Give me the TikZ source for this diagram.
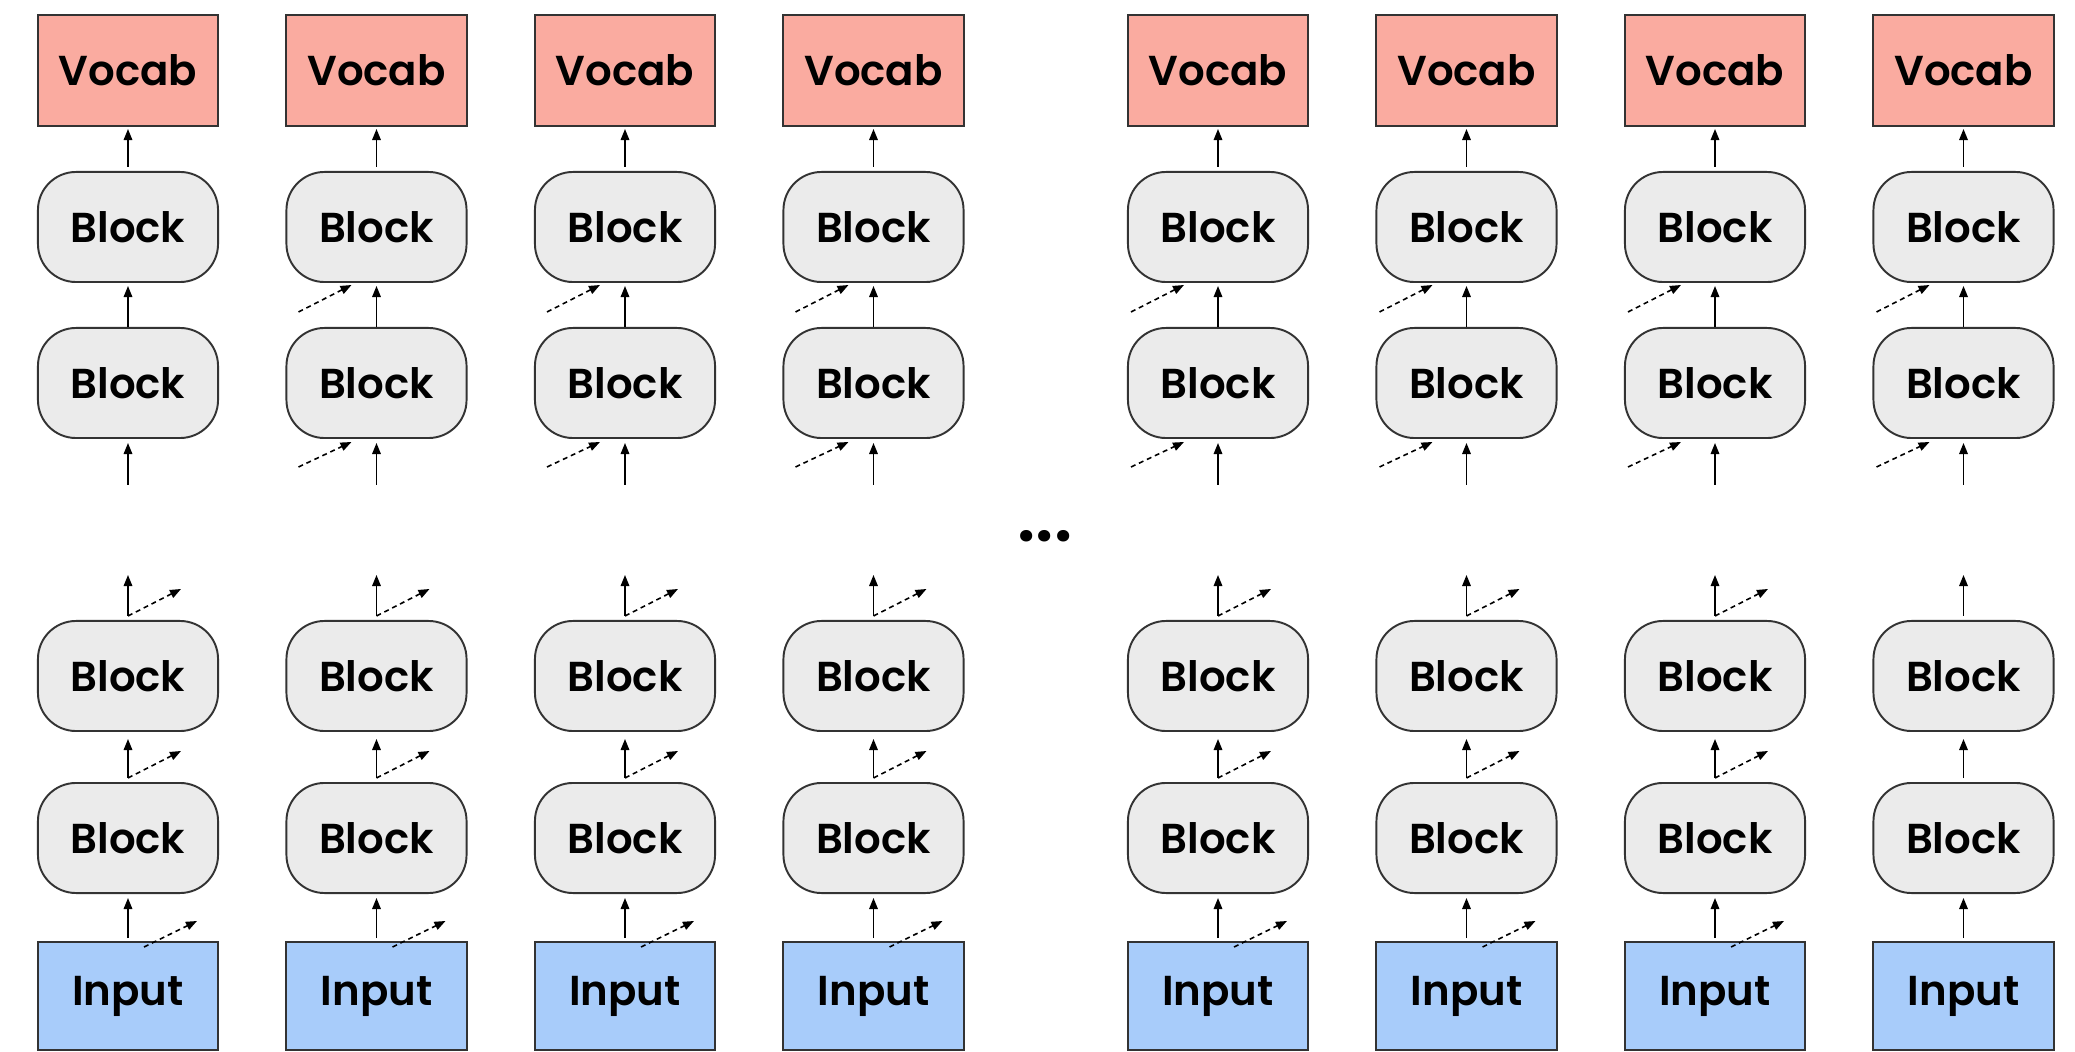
\documentclass[tikz,border=0pt]{standalone}
\usepackage{fontspec}
\newfontfamily\labelfont{Poppins SemiBold}
\usetikzlibrary{arrows.meta}
\definecolor{vocabfill}{HTML}{FAABA0}
\definecolor{inputfill}{HTML}{A8CCFA}
\definecolor{blockfill}{HTML}{EBEBEB}
\definecolor{edge}{HTML}{333333}
\tikzset{
  boxbase/.style={draw=edge, line width=0.55pt, inner sep=0pt, minimum width=1.80cm,
    font=\labelfont\fontsize{11.9}{14}\selectfont, text=black},
  vocabbox/.style={boxbase, fill=vocabfill, minimum height=1.11cm},
  inputbox/.style={boxbase, fill=inputfill, minimum height=1.08cm},
  blockbox/.style={boxbase, fill=blockfill, minimum height=1.10cm, rounded corners=0.38cm},
  arr/.style={-{Triangle[length=0.11cm,width=0.085cm]}, line width=0.45pt, black},
  darr/.style={-{Triangle[length=0.11cm,width=0.085cm]}, line width=0.45pt, black, dash pattern=on 1.4pt off 1.1pt},
}
\begin{document}
\begin{tikzpicture}[x=0.01cm,y=-0.01cm]
\useasboundingbox (0,0) rectangle (2075,1052);
\foreach \cx/\i/\off/\hasd/\hasb in {128/1/78/0/1, 376.5/2/78/1/1, 625/3/78/1/1, 873.5/4/78/1/1, 1218/5/87/1/1, 1466.5/6/87/1/1, 1715/7/87/1/1, 1963.5/8/87/1/0}{
  % top section
  \node[vocabbox] (v\i) at (\cx,70.5) {Vocab};
  \node[blockbox] (t\i) at (\cx,227) {Block};
  \node[blockbox] (s\i) at (\cx,383) {Block};
  \coordinate (tin\i) at (\cx,485);
  \draw[arr, shorten <=0.04cm, shorten >=0.02cm] (t\i) -- (v\i);
  \draw[arr, shorten >=0.03cm] (s\i) -- (t\i);
  \draw[arr, shorten >=0.04cm] (tin\i) -- (s\i);
  \ifnum\hasd=1
    \coordinate (ta\i) at (\cx-\off,312);
    \coordinate (tb\i) at (\cx-\off+53,285);
    \coordinate (tc\i) at (\cx-\off,467);
    \coordinate (td\i) at (\cx-\off+53,442);
    \draw[darr] (ta\i) -- (tb\i);
    \draw[darr] (tc\i) -- (td\i);
  \fi
  % bottom section
  \node[blockbox] (b\i) at (\cx,676) {Block};
  \node[blockbox] (c\i) at (\cx,838) {Block};
  \node[inputbox] (n\i) at (\cx,996) {Input};
  \coordinate (bo\i) at (\cx,575);
  \coordinate (bs\i) at (\cx,616);
  \coordinate (cs\i) at (\cx,778);
  \draw[arr] (bs\i) -- (bo\i);
  \draw[arr, shorten >=0.07cm] (cs\i) -- (b\i);
  \draw[arr, shorten <=0.03cm, shorten >=0.04cm] (n\i) -- (c\i);
  \ifnum\hasb=1
    \coordinate (be\i) at (\cx+53,589);
    \coordinate (ce\i) at (\cx+53,751);
    \coordinate (ns\i) at (\cx+16,947);
    \coordinate (ne\i) at (\cx+69,921);
    \draw[darr] (bs\i) -- (be\i);
    \draw[darr] (cs\i) -- (ce\i);
    \draw[darr] (ns\i) -- (ne\i);
  \fi
}
\node[font=\labelfont\fontsize{20}{22}\selectfont] (dots) at (1045,536) {...};
\end{tikzpicture}
\end{document}
